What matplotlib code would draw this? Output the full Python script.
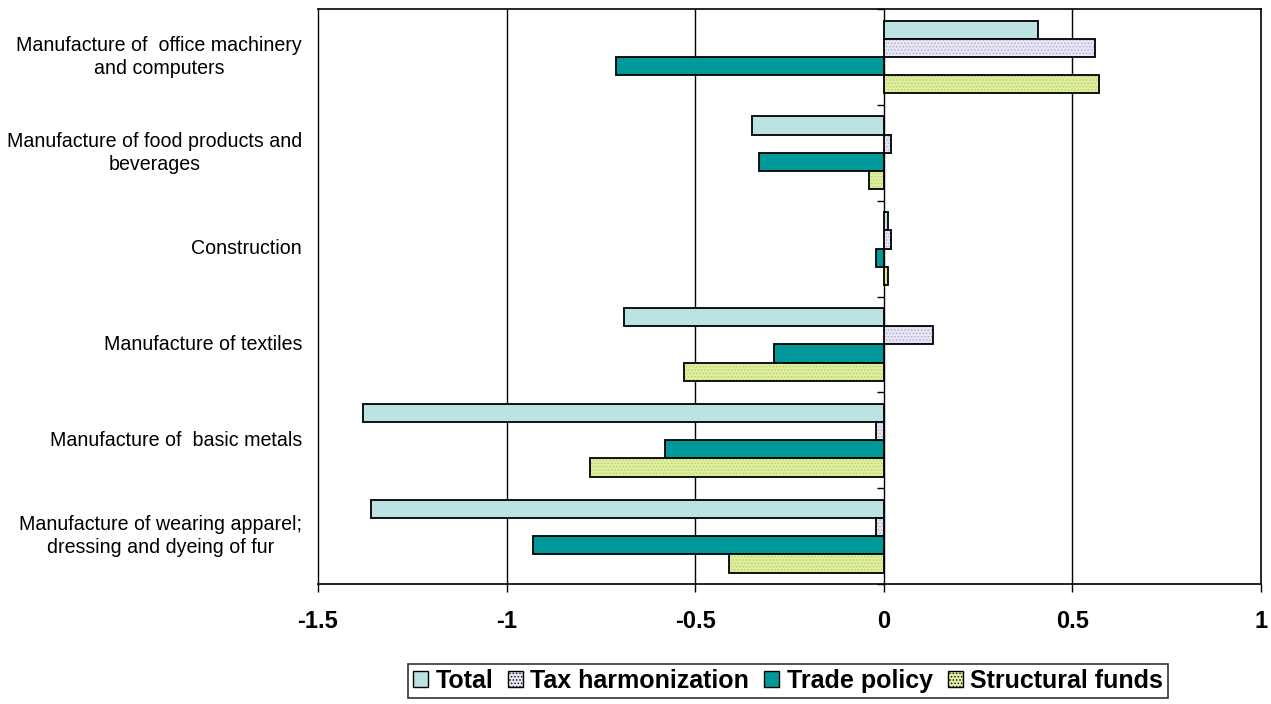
import numpy as np
import matplotlib.pyplot as plt
import matplotlib.transforms as mtransforms

# data, top to bottom in the chart
categories = ['Manufacture of  office machinery\nand computers',
              'Manufacture of food products and\nbeverages',
              'Construction',
              'Manufacture of textiles',
              'Manufacture of  basic metals',
              'Manufacture of wearing apparel;\ndressing and dyeing of fur']
series = ['Total', 'Tax harmonization', 'Trade policy', 'Structural funds']
total = [0.41, -0.35, 0.01, -0.69, -1.38, -1.36]
tax = [0.56, 0.02, 0.02, 0.13, -0.02, -0.02]
trade = [-0.71, -0.33, -0.02, -0.29, -0.58, -0.93]
structural = [0.57, -0.04, 0.01, -0.53, -0.78, -0.41]
xticks = [-1.5, -1, -0.5, 0, 0.5, 1]
xlabels = ['-1.5', '-1', '-0.5', '0', '0.5', '1']

values = [total, tax, trade, structural]
fills = ['#bde2e4', '#e6e6f4', '#009999', '#ddeea0']
hatch_cols = [None, '#a8a8c8', None, '#b8d070']

plt.rcParams['font.family'] = ['Liberation Sans', 'DejaVu Sans']
plt.rcParams['hatch.linewidth'] = 0.6

fig = plt.figure(figsize=[12.71, 7.04], dpi=100)
ax = fig.add_axes([318/1271, 1-584/704, (1261-318)/1271, (584-9)/704])

n = len(categories)
pos = np.arange(n)           # category centres, 0 at top
h = 0.19
handles = []
for i in range(4):
    y = pos - 1.5*h + i*h
    if hatch_cols[i]:
        ax.barh(y, values[i], height=h, color=fills[i], edgecolor=hatch_cols[i],
                hatch='.....', linewidth=0, zorder=3)
        ax.barh(y, values[i], height=h, facecolor='none', edgecolor='black',
                linewidth=1.3, zorder=4)
        p = plt.Rectangle((0, 0), 1, 1, facecolor=fills[i], edgecolor='black',
                          hatch='.....', linewidth=1.0)
    else:
        ax.barh(y, values[i], height=h, color=fills[i], edgecolor='black',
                linewidth=1.3, zorder=3)
        p = plt.Rectangle((0, 0), 1, 1, facecolor=fills[i], edgecolor='black', linewidth=1.0)
    handles.append(p)

ax.set_xlim(-1.5, 1)
ax.set_ylim(n - 0.5, -0.5)

# vertical grid
for gx in [-1, -0.5, 0.5]:
    ax.axvline(gx, color='black', lw=1.0, zorder=1)

# category axis sits at zero
ax.spines['left'].set_position(('data', 0))
ax.spines['left'].set_linewidth(1.0)
ax.set_yticks(np.arange(n + 1) - 0.5)
ax.set_yticklabels([])
ax.tick_params(axis='y', direction='out', length=5, width=1.0)
ax.axvline(-1.5, color='black', lw=1.0, zorder=5, clip_on=False)
for s in ['top', 'right', 'bottom']:
    ax.spines[s].set_linewidth(1.2)

trans = mtransforms.blended_transform_factory(ax.transAxes, ax.transData)
for k, c in enumerate(categories):
    ax.text(-0.017, pos[k], c, transform=trans, ha='right', va='center',
            multialignment='center', fontsize=14.1, linespacing=1.25)

ax.set_xticks(xticks)
ax.set_xticklabels(xlabels)
ax.tick_params(axis='x', direction='out', length=6, width=1.0, pad=13, labelsize=17)
for t in ax.get_xticklabels():
    t.set_fontweight('bold')

leg = fig.legend(handles, series, loc='center', bbox_to_anchor=(788/1271, 1-681/704),
                 ncol=4, frameon=True, fancybox=False, edgecolor='black',
                 prop={'weight': 'bold', 'size': 18},
                 handlelength=0.6, handleheight=0.6,
                 handletextpad=0.3, columnspacing=0.6, borderpad=0.2, borderaxespad=0)
leg.get_frame().set_linewidth(1.2)

fig.savefig('out.png', dpi=100)
